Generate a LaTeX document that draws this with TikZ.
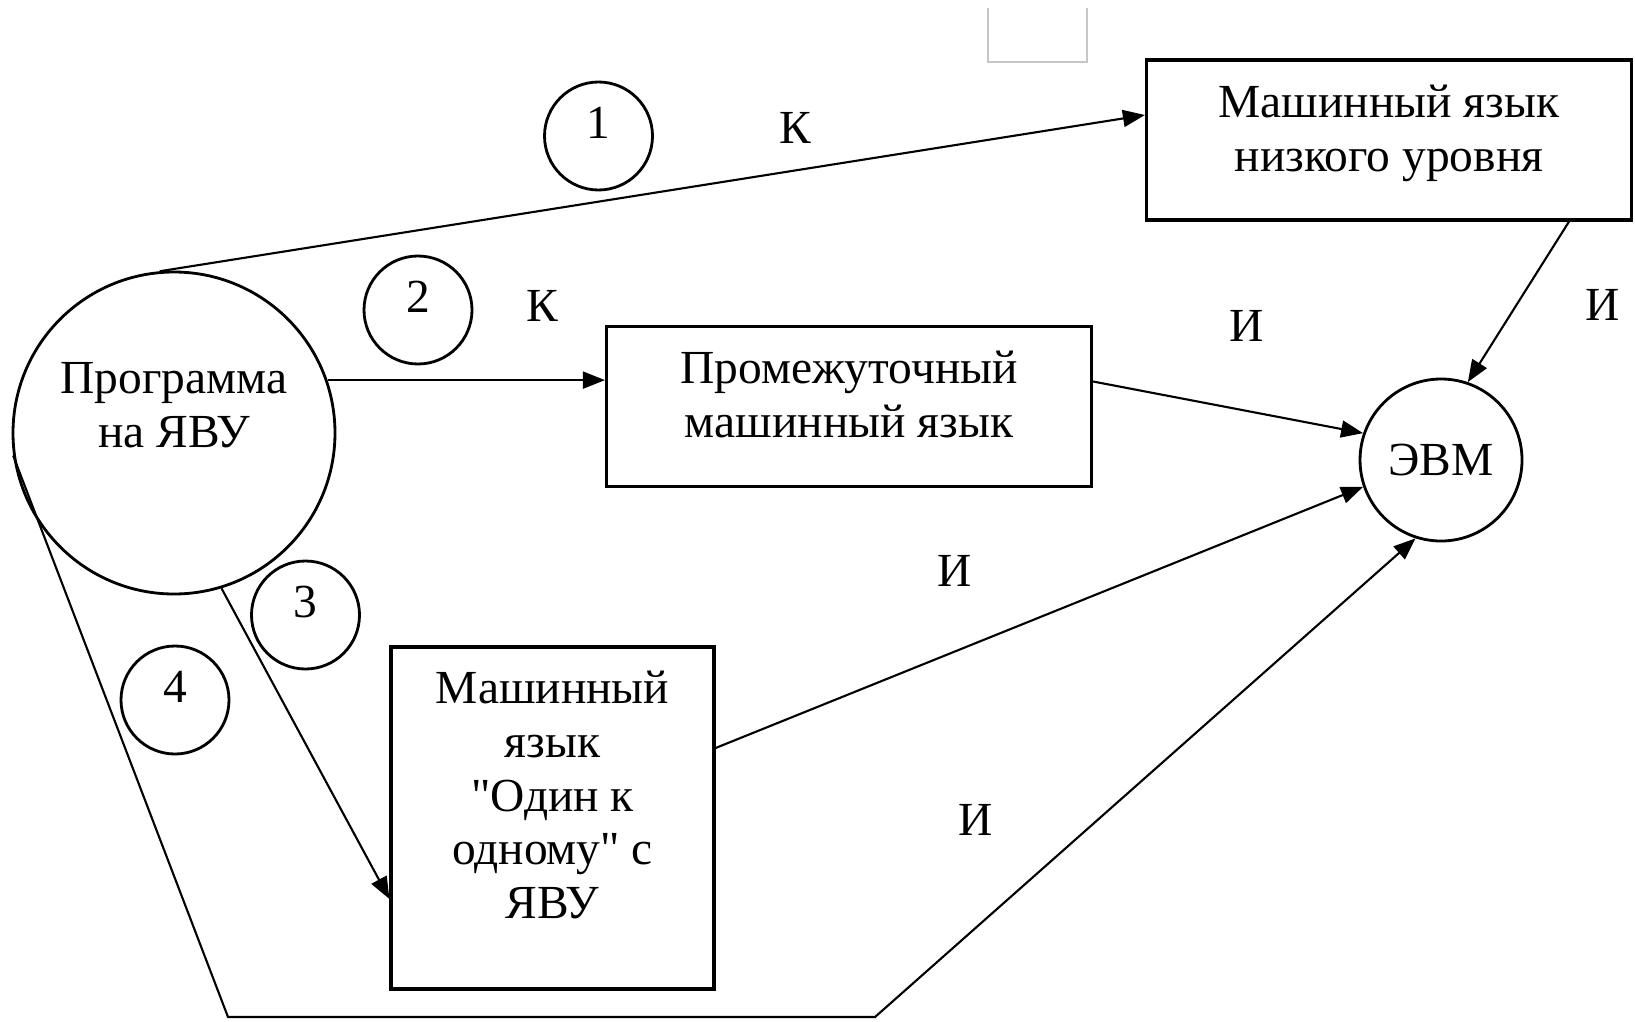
\documentclass[tikz,border=0pt]{standalone}
\usepackage{fontspec}
\setmainfont{Liberation Serif}
\usetikzlibrary{arrows.meta}

\begin{document}
\begin{tikzpicture}[
      box/.style={draw, line width=0.9pt, minimum width=4.85cm, minimum height=1.6cm,
                  align=center, inner sep=0pt, text depth=0.24cm},
      circ/.style={draw, circle, line width=0.8pt, inner sep=0pt, align=center},
      num/.style={circ, minimum size=1.08cm, text depth=0.26cm},
      txt/.style={align=center, inner sep=0pt},
      >={Triangle[length=2.2mm, width=1.7mm]}, line width=0.6pt,
      font=\fontsize{13.5pt}{15.3pt}\selectfont,
    ]
    \useasboundingbox (0,0) rectangle (16.35,10.21);

    \node[circ, minimum size=3.22cm] (prog) at (1.74,5.88) {};
    \node[txt] (progtxt) at ([yshift=2.8mm]prog.center) {Программа\\на ЯВУ};
    \node[circ, minimum size=1.62cm] (evm) at (14.41,5.61) {ЭВМ};

    \node[box] (low) at (13.89,8.81) {Машинный язык\\низкого уровня};
    \node[box] (mid) at (8.49,6.145) {Промежуточный\\машинный язык};
    \node[box, minimum width=3.23cm, minimum height=3.42cm, text depth=0pt] (one) at (5.525,2.03) {};
    \node[txt] (onetxt) at ([yshift=2.3mm]one.center)
      {Машинный\\язык\\\textquotedbl Один к\\одному\textquotedbl{} с\\ЯВУ};

    \node[num] (n1) at (5.985,8.85) {1};
    \node[num] (n2) at (4.18,7.11) {2};
    \node[num] (n3) at (3.055,4.06) {3};
    \node[num] (n4) at (1.75,3.21) {4};

    \node (k1) at (7.95,8.93) {К};
    \node (k2) at (5.42,7.155) {К};
    \node (i1) at (12.47,6.95) {И};
    \node (i2) at (16.03,7.165) {И};
    \node (i3) at (9.55,4.50) {И};
    \node (i4) at (9.76,2.01) {И};

    \coordinate (bl) at (2.28,0.04);
    \coordinate (br) at (8.75,0.04);

    % compilation
    \draw[->] (prog.95) -- ([yshift=2.5mm]low.west);
    \draw[->] (prog.19) -- (prog.19 -| mid.west);
    \draw[->] (prog.-73) -- ([yshift=-8.1mm]one.west);
    % interpretation
    \draw[->] ([xshift=1.8cm]low.south) -- (evm.71);
    \draw[->] ([yshift=2.5mm]mid.east) -- (evm.161);
    \draw[->] ([yshift=7mm]one.east) -- (evm.199);
    \draw[->] (prog.188) -- (bl) -- (br) -- (evm.252);

    \draw[gray!45, line width=0.8pt] (9.88,10.13) |- (10.87,9.59) -- (10.87,10.13);
\end{tikzpicture}
\end{document}
